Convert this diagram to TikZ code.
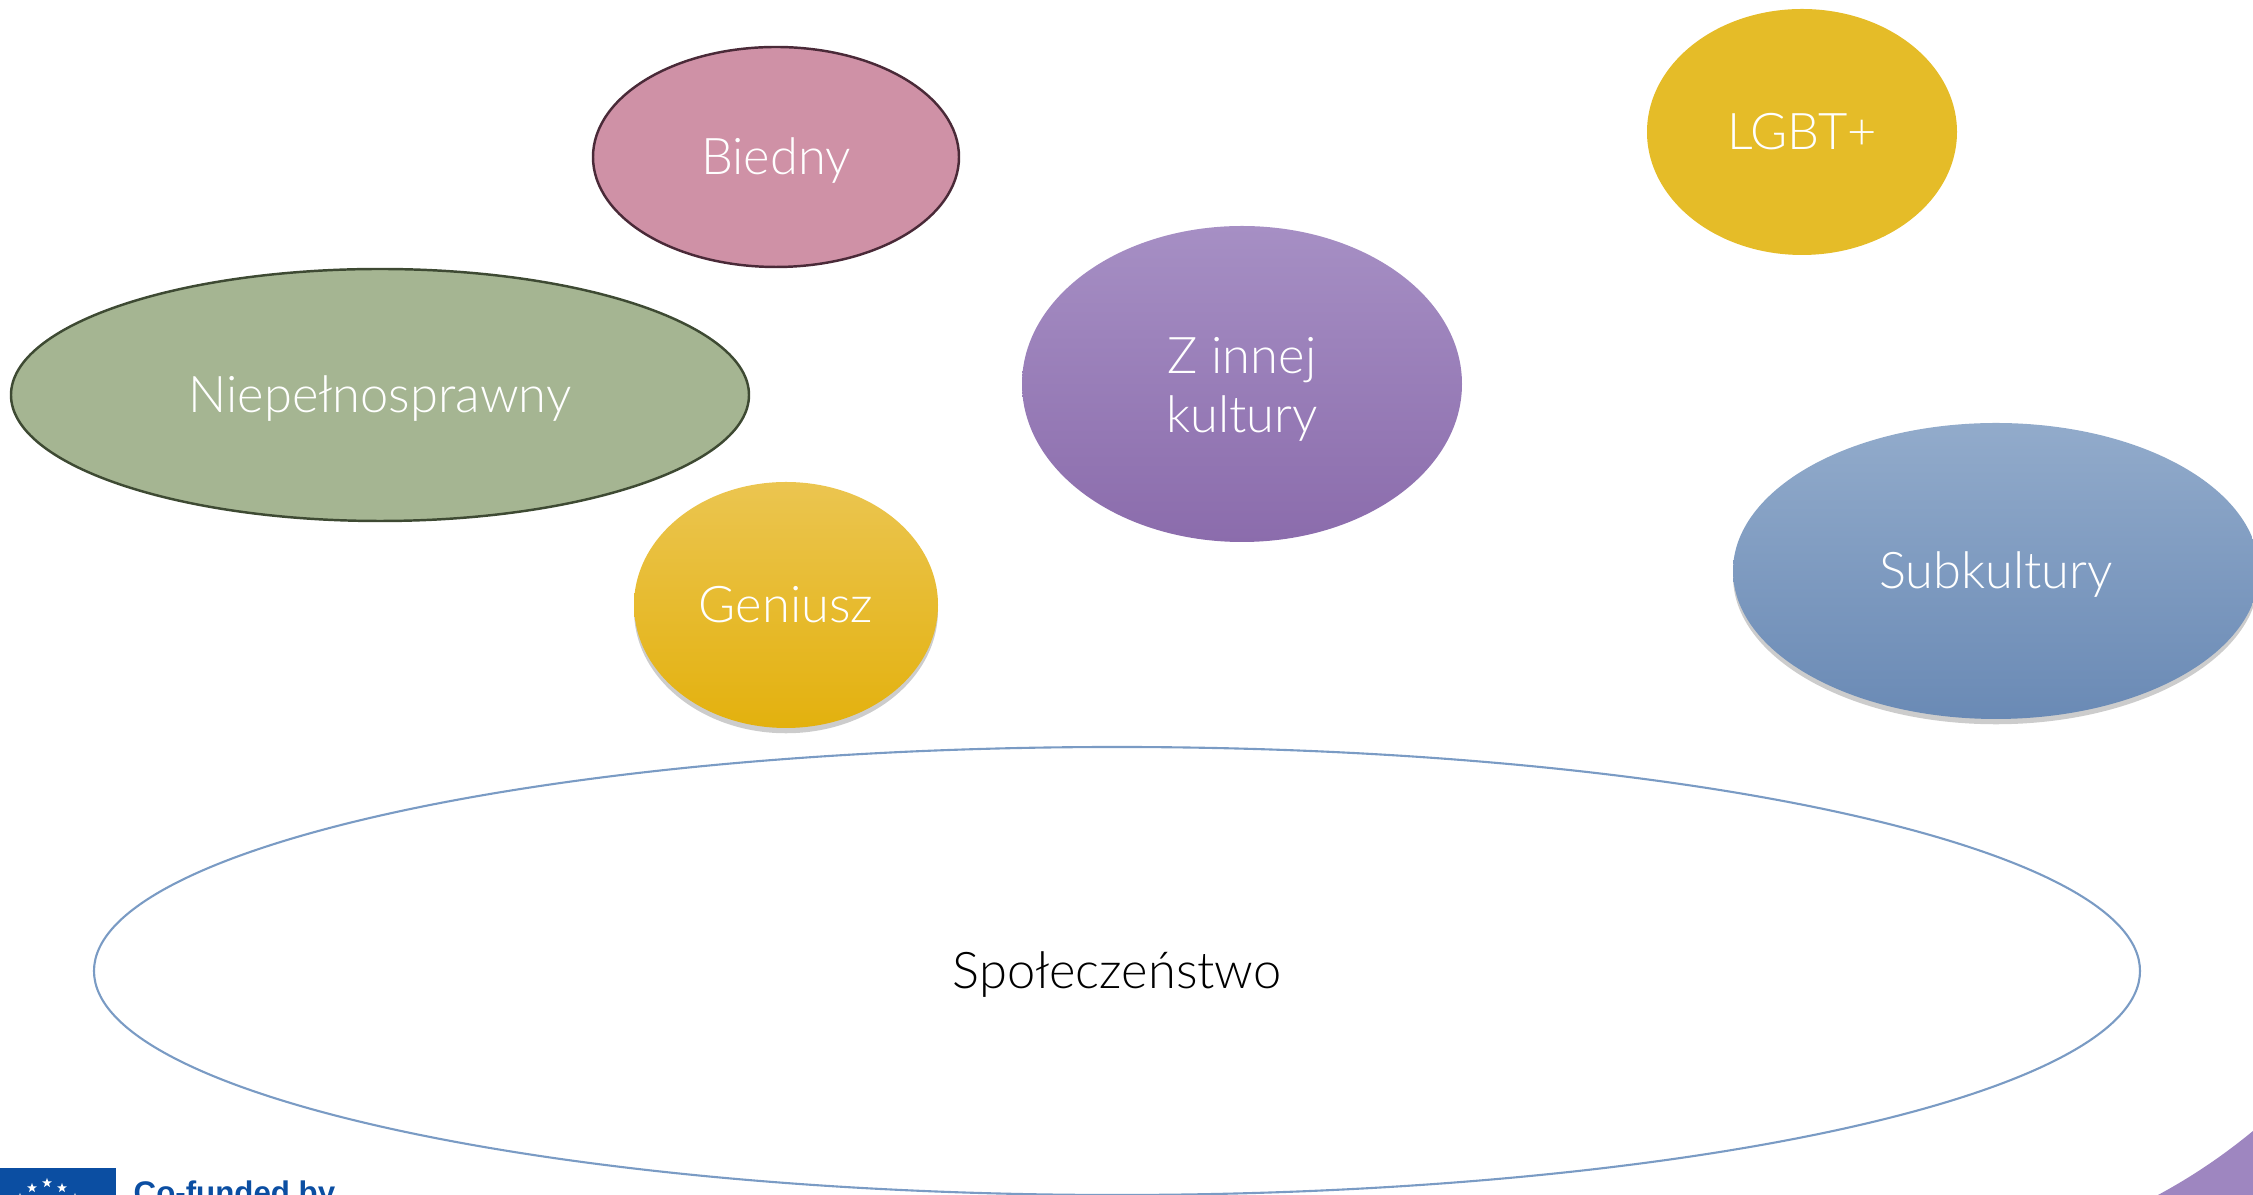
\documentclass[tikz,border=0pt]{standalone}
\usepackage{fontspec}
\usepackage{tikz}
\usetikzlibrary{shapes.geometric,shadows}
\setmainfont{Lato}[UprightFont=* Light]
\newfontfamily\logofont{Liberation Sans}
\definecolor{biednyfill}{HTML}{CF91A6}
\definecolor{biednyline}{HTML}{4A2A38}
\definecolor{niepfill}{HTML}{A5B592}
\definecolor{niepline}{HTML}{3E4A33}
\definecolor{geniusztop}{HTML}{EBC550}
\definecolor{geniuszmid}{HTML}{EFC11E}
\definecolor{geniuszbot}{HTML}{E3B10E}
\definecolor{kulturatop}{HTML}{A68FC4}
\definecolor{kulturabot}{HTML}{8B6CAC}
\definecolor{lgbtfill}{HTML}{E5BC28}
\definecolor{subtop}{HTML}{92ABCB}
\definecolor{subbot}{HTML}{6A8AB5}
\definecolor{spolline}{HTML}{7A9BC4}
\definecolor{cornerfill}{HTML}{9E86C0}
\definecolor{logoblue}{HTML}{0B4EA2}

\begin{document}
\begin{tikzpicture}[
	grupa/.style={ellipse,inner sep=0pt,text=white,align=center,text height=1.25em,text depth=0.25em,font=\fontsize{14.4}{16.8}\selectfont},
	cien/.style={drop shadow={shadow xshift=0pt,shadow yshift=-1.5pt,opacity=0.4}}
	]
	\useasboundingbox (0,0) rectangle (22.53,11.95);
	\node[grupa,draw=biednyline,line width=0.7pt,fill=biednyfill,minimum width=3.66cm,minimum height=2.2cm] (biedny) at (7.76,10.38) {Biedny};
	\node[grupa,draw=niepline,line width=0.7pt,fill=niepfill,minimum width=7.38cm,minimum height=2.52cm] (niepelnosprawny) at (3.8,8) {Niepełnosprawny};
	\node[grupa,cien,top color=geniusztop,middle color=geniuszmid,bottom color=geniuszbot,minimum width=3.04cm,minimum height=2.46cm] (geniusz) at (7.86,5.9) {Geniusz};
	\node[grupa,text height=3em,top color=kulturatop,bottom color=kulturabot,minimum width=4.4cm,minimum height=3.16cm] (kultura) at (12.42,8.11) {Z innej\\kultury};
	\node[grupa,fill=lgbtfill,minimum width=3.1cm,minimum height=2.46cm] (lgbt) at (18.02,10.63) {LGBT+};
	\node[grupa,cien,top color=subtop,bottom color=subbot,minimum width=5.26cm,minimum height=2.96cm] (subkultury) at (19.96,6.24) {Subkultury};
	\node[grupa,draw=spolline,semithick,text=black,minimum width=20.46cm,minimum height=4.48cm] (spoleczenstwo) at (11.17,2.24) {Społeczeństwo};
	% corner and logo
	\fill[cornerfill] (21.58,0) .. controls (21.95,0.2) and (22.25,0.41) .. (22.53,0.64) -- (22.53,0) -- cycle;
	\fill[logoblue] (0,0) rectangle (1.16,0.27);
	\foreach \x/\y in {0.32/0.07,0.47/0.12,0.62/0.07,0.2/-0.03,0.75/-0.03}
	{
		\node[star,star points=5,star point ratio=2.4,fill=white,inner sep=0pt,minimum size=0.1cm] at (\x,\y) {};
	}
	\node[anchor=north west,inner sep=0pt,text=logoblue,font=\logofont\bfseries\fontsize{8.9}{10}\selectfont] (logo) at (1.33,0.15) {Co-funded by};
\end{tikzpicture}
\end{document}
